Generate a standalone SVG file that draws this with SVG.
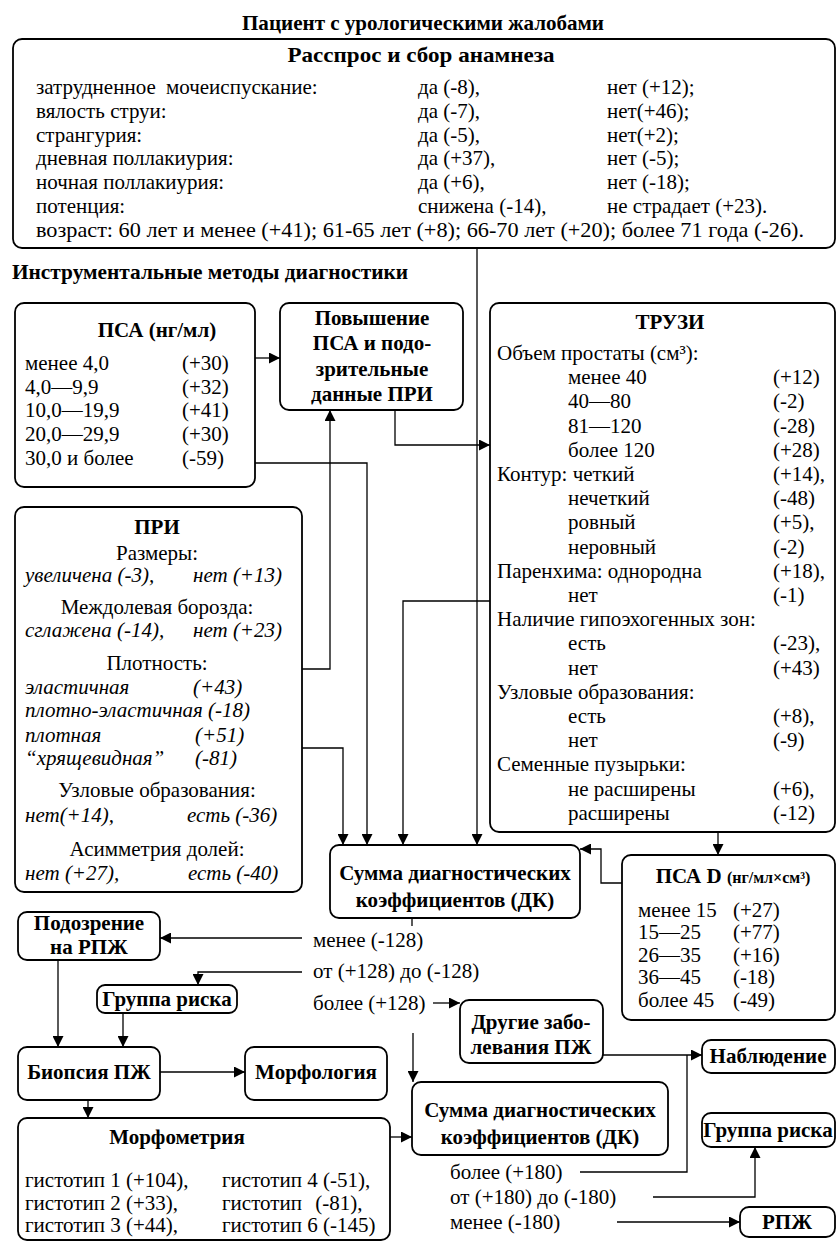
<svg xmlns="http://www.w3.org/2000/svg" width="837" height="1246" viewBox="0 0 837 1246">
<style>
text{font-family:"Liberation Serif","Times New Roman",serif;font-size:21px;fill:#000}
.b{font-weight:bold}
.i{font-style:italic}
.m{text-anchor:middle}
.box{fill:#fff;stroke:#000;stroke-width:1.8}
.ln{fill:none;stroke:#000;stroke-width:1.3}
</style>
<defs>
<marker id="ah" viewBox="0 0 10 10" refX="10" refY="5" markerWidth="11" markerHeight="11" markerUnits="userSpaceOnUse" orient="auto"><path d="M0,0 L10,5 L0,10 z" fill="#000"/></marker>
</defs>
<rect width="837" height="1246" fill="#fff"/>

<g id="title"><text class="b m" x="423" y="30" font-size="22" textLength="362" lengthAdjust="spacingAndGlyphs">Пациент с урологическими жалобами</text></g>

<g id="connectors">
<path class="ln" d="M477,248 V845" marker-end="url(#ah)"/>
<path class="ln" d="M255,358 H280" marker-end="url(#ah)"/>
<path class="ln" d="M395,410 V445 H490" marker-end="url(#ah)"/>
<path class="ln" d="M302,669 H330 V410" marker-end="url(#ah)"/>
<path class="ln" d="M255,463 H367 V845" marker-end="url(#ah)"/>
<path class="ln" d="M302,748 H343 V845" marker-end="url(#ah)"/>
<path class="ln" d="M490,601 H403 V845" marker-end="url(#ah)"/>
<path class="ln" d="M718,832 V855" marker-end="url(#ah)"/>
<path class="ln" d="M622,883 H601 V849 H580" marker-end="url(#ah)"/>
<path class="ln" d="M412,918 V926"/>
<path class="ln" d="M302,938 H160" marker-end="url(#ah)"/>
<path class="ln" d="M302,972 H198 V985" marker-end="url(#ah)"/>
<path class="ln" d="M433,1003 H460" marker-end="url(#ah)"/>
<path class="ln" d="M58,960 V1047" marker-end="url(#ah)"/>
<path class="ln" d="M123,1013 V1047" marker-end="url(#ah)"/>
<path class="ln" d="M160,1072 H245" marker-end="url(#ah)"/>
<path class="ln" d="M88,1100 V1118" marker-end="url(#ah)"/>
<path class="ln" d="M390,1137 H412" marker-end="url(#ah)"/>
<path class="ln" d="M413,1033 V1082" marker-end="url(#ah)"/>
<path class="ln" d="M603,1055 H702" marker-end="url(#ah)"/>
<path class="ln" d="M580,1172 H687 V1055"/>
<path class="ln" d="M653,1197 H755 V1147" marker-end="url(#ah)"/>
<path class="ln" d="M617,1222 H740" marker-end="url(#ah)"/>
</g>

<g id="anamnesis">
<rect class="box" x="13" y="39" width="822" height="209" rx="9"/>
<text class="b m" x="421" y="62" textLength="267" lengthAdjust="spacingAndGlyphs">Расспрос и сбор анамнеза</text>
<text x="36" y="94" word-spacing="5">затрудненное мочеиспускание:</text>
<text x="418" y="94">да (-8),</text><text x="607" y="94">нет (+12);</text>
<text x="36" y="117.8">вялость струи:</text>
<text x="418" y="117.8">да (-7),</text><text x="607" y="117.8">нет(+46);</text>
<text x="36" y="141.6">странгурия:</text>
<text x="418" y="141.6">да (-5),</text><text x="607" y="141.6">нет(+2);</text>
<text x="36" y="165.4">дневная поллакиурия:</text>
<text x="418" y="165.4">да (+37),</text><text x="607" y="165.4">нет (-5);</text>
<text x="36" y="189.2">ночная поллакиурия:</text>
<text x="418" y="189.2">да (+6),</text><text x="607" y="189.2">нет (-18);</text>
<text x="36" y="213">потенция:</text>
<text x="418" y="213">снижена (-14),</text><text x="607" y="213">не страдает (+23).</text>
<text x="36" y="237" textLength="768" lengthAdjust="spacingAndGlyphs">возраст: 60 лет и менее (+41); 61-65 лет (+8); 66-70 лет (+20); более 71 года (-26).</text>
</g>

<g id="instr"><text class="b" x="12" y="279" textLength="396" lengthAdjust="spacingAndGlyphs">Инструментальные методы диагностики</text></g>

<g id="psa">
<rect class="box" x="15" y="303" width="240" height="184" rx="9"/>
<text class="b m" x="157" y="337">ПСА (нг/мл)</text>
<text x="25" y="370">менее 4,0</text><text x="182" y="370">(+30)</text>
<text x="25" y="394">4,0—9,9</text><text x="182" y="394">(+32)</text>
<text x="25" y="417">10,0—19,9</text><text x="182" y="417">(+41)</text>
<text x="25" y="441">20,0—29,9</text><text x="182" y="441">(+30)</text>
<text x="25" y="465">30,0 и более</text><text x="182" y="465">(-59)</text>
</g>

<g id="raise">
<rect class="box" x="280" y="303" width="183" height="107" rx="9"/>
<text class="b m" x="372" y="325">Повышение</text>
<text class="b m" x="372" y="350">ПСА и подо-</text>
<text class="b m" x="372" y="376">зрительные</text>
<text class="b m" x="372" y="401">данные ПРИ</text>
</g>

<g id="truzi">
<rect class="box" x="490" y="303" width="345" height="529" rx="9"/>
<text class="b m" x="670" y="329">ТРУЗИ</text>
<text x="497" y="360">Объем простаты (см³):</text>
<text x="568" y="384.2">менее 40</text><text x="773" y="384.2">(+12)</text>
<text x="568" y="408.4">40—80</text><text x="773" y="408.4">(-2)</text>
<text x="568" y="432.6">81—120</text><text x="773" y="432.6">(-28)</text>
<text x="568" y="456.8">более 120</text><text x="773" y="456.8">(+28)</text>
<text x="497" y="481">Контур: четкий</text><text x="773" y="481">(+14),</text>
<text x="568" y="505.2">нечеткий</text><text x="773" y="505.2">(-48)</text>
<text x="568" y="529.4">ровный</text><text x="773" y="529.4">(+5),</text>
<text x="568" y="553.6">неровный</text><text x="773" y="553.6">(-2)</text>
<text x="497" y="577.8">Паренхима: однородна</text><text x="773" y="577.8">(+18),</text>
<text x="568" y="602">нет</text><text x="773" y="602">(-1)</text>
<text x="497" y="626.2">Наличие гипоэхогенных зон:</text>
<text x="568" y="650.4">есть</text><text x="773" y="650.4">(-23),</text>
<text x="568" y="674.6">нет</text><text x="773" y="674.6">(+43)</text>
<text x="497" y="698.8">Узловые образования:</text>
<text x="568" y="723">есть</text><text x="773" y="723">(+8),</text>
<text x="568" y="747.2">нет</text><text x="773" y="747.2">(-9)</text>
<text x="497" y="771.4">Семенные пузырьки:</text>
<text x="568" y="795.6">не расширены</text><text x="773" y="795.6">(+6),</text>
<text x="568" y="819.8">расширены</text><text x="773" y="819.8">(-12)</text>
</g>

<g id="pri">
<rect class="box" x="15" y="507" width="287" height="385" rx="9"/>
<text class="b m" x="157" y="534">ПРИ</text>
<text class="m" x="157" y="560">Размеры:</text>
<text class="i" x="25" y="582">увеличена (-3),</text><text class="i" x="193" y="582">нет (+13)</text>
<text class="m" x="157" y="614">Междолевая борозда:</text>
<text class="i" x="25" y="637">сглажена (-14),</text><text class="i" x="193" y="637">нет (+23)</text>
<text class="m" x="157" y="670">Плотность:</text>
<text class="i" x="25" y="694">эластичная</text><text class="i" x="193" y="694">(+43)</text>
<text class="i" x="25" y="717">плотно-эластичная (-18)</text>
<text class="i" x="25" y="742">плотная</text><text class="i" x="195" y="742">(+51)</text>
<text class="i" x="25" y="765">“хрящевидная”</text><text class="i" x="195" y="765">(-81)</text>
<text class="m" x="157" y="797">Узловые образования:</text>
<text class="i" x="25" y="822">нет(+14),</text><text class="i" x="187" y="822">есть (-36)</text>
<text class="m" x="157" y="856">Асимметрия долей:</text>
<text class="i" x="25" y="880">нет (+27),</text><text class="i" x="188" y="880">есть (-40)</text>
</g>

<g id="sum1">
<rect class="box" x="330" y="845" width="250" height="73" rx="9"/>
<text class="b m" x="455" y="880">Сумма диагностических</text>
<text class="b m" x="455" y="907">коэффициентов (ДК)</text>
</g>

<g id="psad">
<rect class="box" x="622" y="855" width="213" height="165" rx="9"/>
<text class="b m" x="733" y="883">ПСА D <tspan font-size="16">(нг/мл×см³)</tspan></text>
<text x="638" y="917">менее 15</text><text x="733" y="917">(+27)</text>
<text x="638" y="939">15—25</text><text x="733" y="939">(+77)</text>
<text x="638" y="962">26—35</text><text x="733" y="962">(+16)</text>
<text x="638" y="984">36—45</text><text x="733" y="984">(-18)</text>
<text x="638" y="1007">более 45</text><text x="733" y="1007">(-49)</text>
</g>

<g id="labels1">
<text x="313" y="947">менее (-128)</text>
<text x="313" y="978">от (+128) до (-128)</text>
<text x="313" y="1010">более (+128)</text>
</g>

<g id="suspect">
<rect class="box" x="18" y="912" width="142" height="48" rx="9"/>
<text class="b m" x="89" y="930">Подозрение</text>
<text class="b m" x="89" y="954">на РПЖ</text>
</g>

<g id="risk1">
<rect class="box" x="97" y="985" width="140" height="28" rx="8"/>
<text class="b m" x="167" y="1006">Группа риска</text>
</g>

<g id="biopsy">
<rect class="box" x="18" y="1047" width="142" height="53" rx="9"/>
<text class="b m" x="89" y="1079">Биопсия ПЖ</text>
</g>

<g id="morphology">
<rect class="box" x="245" y="1047" width="142" height="53" rx="9"/>
<text class="b m" x="316" y="1079">Морфология</text>
</g>

<g id="morphometry">
<rect class="box" x="18" y="1118" width="372" height="122" rx="9"/>
<text class="b m" x="177" y="1144">Морфометрия</text>
<text x="25" y="1187">гистотип 1 (+104),</text><text x="222" y="1187">гистотип 4 (-51),</text>
<text x="25" y="1210">гистотип 2 (+33),</text><text x="222" y="1210" word-spacing="8">гистотип (-81),</text>
<text x="25" y="1232">гистотип 3 (+44),</text><text x="222" y="1232">гистотип 6 (-145)</text>
</g>

<g id="other">
<rect class="box" x="460" y="1000" width="143" height="63" rx="9"/>
<text class="b m" x="531" y="1029">Другие забо-</text>
<text class="b m" x="531" y="1054">левания ПЖ</text>
</g>

<g id="sum2">
<rect class="box" x="412" y="1082" width="256" height="73" rx="9"/>
<text class="b m" x="540" y="1117">Сумма диагностических</text>
<text class="b m" x="540" y="1144">коэффициентов (ДК)</text>
</g>

<g id="observe">
<rect class="box" x="702" y="1040" width="133" height="33" rx="9"/>
<text class="b m" x="768" y="1063">Наблюдение</text>
</g>

<g id="risk2">
<rect class="box" x="702" y="1113" width="133" height="34" rx="9"/>
<text class="b m" x="768" y="1137">Группа риска</text>
</g>

<g id="labels2">
<text x="450" y="1179">более (+180)</text>
<text x="450" y="1204">от (+180) до (-180)</text>
<text x="450" y="1229">менее (-180)</text>
</g>

<g id="rpzh">
<rect class="box" x="740" y="1207" width="95" height="30" rx="9"/>
<text class="b m" x="787" y="1229">РПЖ</text>
</g>
</svg>
